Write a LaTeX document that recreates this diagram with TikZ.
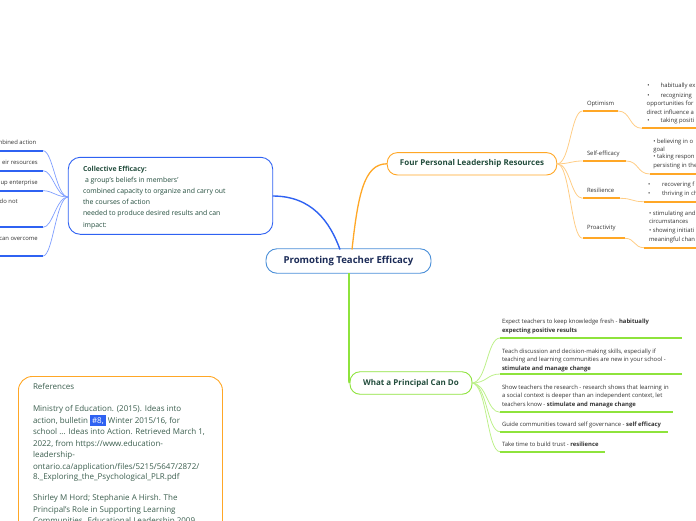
\documentclass[tikz,border=0pt]{standalone}
\usepackage{fontspec}
\setmainfont{Open Sans}
\definecolor{cblue}{HTML}{2F62F2}
\definecolor{cbluel}{HTML}{7F9EFF}
\definecolor{cnode}{HTML}{4A8FD8}
\definecolor{corange}{HTML}{FFA726}
\definecolor{corangel}{HTML}{FFCD85}
\definecolor{cgreen}{HTML}{8EE33C}
\definecolor{cgreenl}{HTML}{BDF08A}
\definecolor{tgreen}{HTML}{234D3D}
\definecolor{tnavy}{HTML}{1B2B57}
\definecolor{tgray}{HTML}{333333}
\definecolor{tref}{HTML}{3B5E4E}
\tikzset{
  txt/.style={inner sep=0, outer sep=0, anchor=base west, text=tgray, font=\fontsize{5.9}{7}\selectfont},
  coltxt/.style={inner sep=0, outer sep=0, anchor=base west, text=tgreen, font=\fontsize{6.9}{8.5}\selectfont},
  reftxt/.style={inner sep=0, outer sep=0, anchor=base west, text=tref, font=\fontsize{8}{9.5}\selectfont},
  mainnode/.style={line width=0.9, fill=white, inner sep=0, text=tgreen, font=\bfseries\fontsize{8}{10}\selectfont},
  thickb/.style={cblue, line width=1.8},
  thinb/.style={cbluel, line width=0.7},
  thicko/.style={corange, line width=1.8},
  thino/.style={corangel, line width=0.8},
  thickg/.style={cgreen, line width=1.8},
  thing/.style={cgreenl, line width=0.8},
}
\begin{document}
\begin{tikzpicture}[x=1pt,y=-1pt]
\useasboundingbox (0,0) rectangle (696,520);

% ---------- main nodes ----------
\node[mainnode, draw=cnode, rounded corners=11, minimum width=165, minimum height=24.5, text=tnavy, font=\bfseries\fontsize{9.6}{11}\selectfont] (center) at (348.5,261) {Promoting Teacher Efficacy};
\node[mainnode, draw=corange, rounded corners=10, minimum width=169.5, minimum height=22.3] (four) at (472,163.8) {Four Personal Leadership Resources};
\node[mainnode, draw=cgreen, rounded corners=10, minimum width=122, minimum height=22.5] (what) at (411,383) {What a Principal Can Do};
\node[draw=cblue, line width=0.9, rounded corners=12, minimum width=204.5, minimum height=77, inner sep=0] (coll) at (170.5,195.8) {};
\node[draw=corange, line width=0.9, rounded corners=14, minimum width=204, minimum height=170, anchor=north west, inner sep=0] (refs) at (18,376) {};

% ---------- main connectors ----------
\coordinate (cTopL) at (340,249.5);
\coordinate (cTopR) at (352,249.5);
\coordinate (cBot) at (349,273);
\coordinate (collE) at (272.7,196);
\coordinate (collW) at (68.3,197);
\draw[cblue, line width=1.4] (collE) .. controls (312,196) and (330,222) .. (cTopL);
\draw[corange, line width=1.3] (cTopR) .. controls (358,195) and (364,163.8) .. (four.west);
\draw[cgreen, line width=1.8] (cBot) -- (349,374) .. controls (349,380) and (349,383) .. (what.west);

% ---------- collective efficacy text ----------
\node[coltxt] (c1) at (83,171) {\bfseries Collective Efficacy:};
\node[coltxt] (c2) at (83,182.2) {\hspace{2pt}a group’s beliefs in members’};
\node[coltxt] (c3) at (83,193.4) {combined capacity to organize and carry out};
\node[coltxt] (c4) at (83,204.6) {the courses of action};
\node[coltxt] (c5) at (83,215.8) {needed to produce desired results and can};
\node[coltxt] (c6) at (83,227) {impact:};

% ---------- left branches ----------
\foreach \y/\n in {150.7/1,170.7/2,190.7/3,227.3/4,256/5}{
  \coordinate (lu\n) at (43,\y);
  \coordinate (le\n) at (-3,\y);
  \draw[thinb] (collW) .. controls (56,197) and (53,\y) .. (lu\n);
  \draw[thickb] (lu\n) -- (le\n);
}
\node[txt, anchor=base east] (l1) at (36.3,144.8) {mbined action};
\node[txt, anchor=base east] (l2) at (37.7,164.8) {eir resources};
\node[txt, anchor=base east] (l3) at (37.7,184.2) {up enterprise};
\node[txt, anchor=base east] (l4) at (17.7,203.2) {do not};
\node[txt, anchor=base east] (l5) at (37.7,240.8) {can overcome};

% ---------- four personal leadership resources branches ----------
\foreach \y/\e/\n in {111/618/1,161/626/2,198.3/620/3,238.3/625/4}{
  \coordinate (os\n) at (582.5,\y);
  \coordinate (oe\n) at (\e,\y);
  \draw[thino] (four.east) .. controls (570,163.8) and (571,\y) .. (os\n);
  \draw[thicko] (os\n) -- (oe\n);
}
\node[txt] (o1) at (587,105.5) {Optimism};
\node[txt] (o2) at (587,155) {Self-efficacy};
\node[txt] (o3) at (587,192.2) {Resilience};
\node[txt] (o4) at (587,229.2) {Proactivity};

\coordinate (ss1) at (642,128.3); \coordinate (se1) at (700,128.3);
\coordinate (ss2) at (650,174);   \coordinate (se2) at (700,174);
\coordinate (ss3) at (644,201.7); \coordinate (se3) at (700,201.7);
\coordinate (ss4) at (644,247.7); \coordinate (se4) at (700,247.7);
\draw[thino] (oe1) .. controls (631,111) and (629,128.3) .. (ss1);
\draw[thino] (oe2) .. controls (639,161) and (637,174) .. (ss2);
\draw[thino] (oe3) .. controls (633,198.3) and (631,201.7) .. (ss3);
\draw[thino] (oe4) .. controls (635,238.3) and (634,247.7) .. (ss4);
\foreach \n in {1,2,3,4}{ \draw[thicko] (ss\n) -- (se\n); }

% optimism sub text
\node[txt] (s1a) at (647.3,87.5) {•};
\node[txt] (s1b) at (660.7,87.5) {habitually ex};
\node[txt] (s1c) at (647.3,97.2) {•};
\node[txt] (s1d) at (660.5,97.2) {recognizing};
\node[txt] (s1e) at (646.7,105.5) {opportunities for};
\node[txt] (s1f) at (646.7,114.2) {direct influence a};
\node[txt] (s1g) at (647.3,122.2) {•};
\node[txt] (s1h) at (660.7,122.2) {taking positi};
% self-efficacy sub text
\node[txt] (s2a) at (653.3,143.2) {• believing in o};
\node[txt] (s2b) at (653.3,151.2) {goal};
\node[txt] (s2c) at (653.3,158.5) {• taking respon};
\node[txt] (s2d) at (653.3,167.5) {persisting in the};
% resilience sub text
\node[txt] (s3a) at (648,186) {•};
\node[txt] (s3b) at (662,186) {recovering f};
\node[txt] (s3c) at (648,195) {•};
\node[txt] (s3d) at (662,195) {thriving in ch};
% proactivity sub text
\node[txt] (s4a) at (649,215) {• stimulating and};
\node[txt] (s4b) at (649,223.5) {circumstances};
\node[txt] (s4c) at (649,232.2) {• showing initiati};
\node[txt] (s4d) at (649,241.2) {meaningful chan};

% ---------- what a principal can do branches ----------
\coordinate (whatE) at (471.7,383);
\foreach \y/\e/\n in {338/681.7/1,374/681.7/2,412.3/672.7/3,431.7/668/4,451.7/605/5}{
  \coordinate (gs\n) at (500,\y);
  \coordinate (ge\n) at (\e,\y);
  \draw[thing] (whatE) .. controls (487,383) and (487,\y) .. (gs\n);
  \draw[thickg] (gs\n) -- (ge\n);
}
\node[txt] (g1a) at (502,323.8) {Expect teachers to keep knowledge fresh - \textbf{habitually}};
\node[txt] (g1b) at (502,332.2) {\textbf{expecting positive results}};
\node[txt] (g2a) at (502,353.2) {Teach discussion and decision-making skills, especially if};
\node[txt] (g2b) at (502,361.6) {teaching and learning communities are new in your school -};
\node[txt] (g2c) at (502,370.2) {\textbf{stimulate and manage change}};
\node[txt] (g3a) at (502,389.2) {Show teachers the research - research shows that learning in};
\node[txt] (g3b) at (502,397.7) {a social context is deeper than an independent context, let};
\node[txt] (g3c) at (502,406.5) {teachers know - \textbf{stimulate and manage change}};
\node[txt] (g4a) at (502,426.6) {Guide communities toward self governance - \textbf{self efficacy}};
\node[txt] (g5a) at (502,446.6) {Take time to build trust - \textbf{resilience}};

% ---------- references ----------
\node[reftxt] (r1) at (33,389) {References};
\node[reftxt] (r2) at (33,411.6) {Ministry of Education. (2015). Ideas into};
\node[reftxt] (r3) at (33,423.2) {action, bulletin {\setlength{\fboxsep}{2pt}\colorbox{cblue}{\textcolor{white}{\#8,}}} Winter 2015/16, for};
\node[reftxt] (r4) at (33,434.9) {school ... Ideas into Action. Retrieved March 1,};
\node[reftxt] (r5) at (33,446.3) {2022, from https://www.education-};
\node[reftxt] (r6) at (33,457.6) {leadership-};
\node[reftxt] (r7) at (33,469) {ontario.ca/application/files/5215/5647/2872/};
\node[reftxt] (r8) at (33,479.6) {8.\_Exploring\_the\_Psychological\_PLR.pdf};
\node[reftxt] (r9) at (33,500.6) {Shirley M Hord; Stephanie A Hirsh. The};
\node[reftxt] (r10) at (33,512.2) {Principal’s Role in Supporting Learning};
\node[reftxt] (r11) at (33,523) {Communities. Educational Leadership 2009};
\end{tikzpicture}
\end{document}
